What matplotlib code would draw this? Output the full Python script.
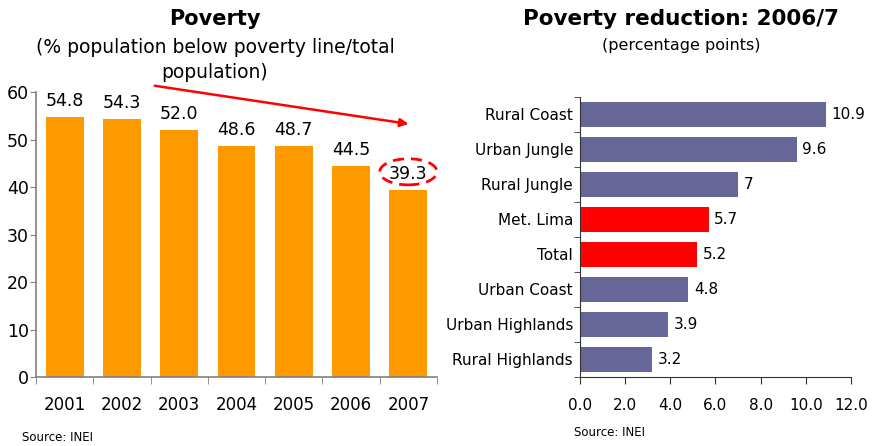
import matplotlib
matplotlib.use("Agg")
import matplotlib.pyplot as plt
from matplotlib.patches import Ellipse
import numpy as np

plt.rcParams['font.family'] = ['DejaVu Sans']

years = ["2001", "2002", "2003", "2004", "2005", "2006", "2007"]
poverty = [54.8, 54.3, 52.0, 48.6, 48.7, 44.5, 39.3]

regions = ["Rural Coast", "Urban Jungle", "Rural Jungle", "Met. Lima", "Total",
           "Urban Coast", "Urban Highlands", "Rural Highlands"]
reduction = [10.9, 9.6, 7, 5.7, 5.2, 4.8, 3.9, 3.2]
reduction_labels = ["10.9", "9.6", "7", "5.7", "5.2", "4.8", "3.9", "3.2"]
highlight = ["Met. Lima", "Total"]

ORANGE = "#FF9900"
PURPLE = "#666699"
RED = "#FF0000"
GREY_AXIS = "#808080"
DARK_AXIS = "#333333"

fig = plt.figure(figsize=(8.74, 4.46), dpi=100)

# ---- Left: poverty level by year ----
ax1 = fig.add_axes([0.0412, 0.1547, 0.4588, 0.639])
x = np.arange(len(years))
ax1.bar(x, poverty, width=0.66, color=ORANGE, zorder=2)
ax1.set_xlim(-0.5, len(years) - 0.5)
ax1.set_ylim(0, 60)
ax1.set_yticks(range(0, 61, 10))
ax1.set_xticks(x)
ax1.set_xticklabels(years, fontsize=12)
ax1.set_xticks(np.arange(-0.5, len(years), 1), minor=True)
ax1.tick_params(axis='x', which='major', length=0, pad=14)
ax1.tick_params(axis='x', which='minor', length=5, color=GREY_AXIS, direction='out')
ax1.tick_params(axis='y', labelsize=12.5, length=4, color=GREY_AXIS, pad=1)
for s in ["top", "right"]:
    ax1.spines[s].set_visible(False)
for s in ["left", "bottom"]:
    ax1.spines[s].set_color(GREY_AXIS)
    ax1.spines[s].set_linewidth(1.2)
for xi, v in zip(x, poverty):
    ax1.annotate(f"{v:.1f}", (xi, v), xytext=(0, 5), textcoords="offset points",
                 ha="center", va="bottom", fontsize=12.5)

# dashed ellipse around the latest value
last = len(years) - 1
ax1.add_patch(Ellipse((last, poverty[last] + 3.9), 1.0, 5.5, fill=False,
                      edgecolor=RED, linestyle=(0, (4, 2.5)), linewidth=2,
                      clip_on=False, zorder=3))

# trend arrow
ax1.annotate("", xy=(0.929, 0.888), xytext=(0.296, 1.022),
             xycoords="axes fraction", textcoords="axes fraction",
             arrowprops=dict(arrowstyle="-|>", color=RED, lw=1.8,
                             mutation_scale=12, shrinkA=0, shrinkB=0))

fig.text(0.246, 0.957, "Poverty", ha="center", va="center",
         fontsize=15, fontweight="bold")
fig.text(0.246, 0.893, "(% population below poverty line/total", ha="center",
         va="center", fontsize=13.5)
fig.text(0.246, 0.837, "population)", ha="center", va="center", fontsize=13.5)
fig.text(0.025, 0.005, "Source: INEI", ha="left", va="bottom", fontsize=8.5)

# ---- Right: poverty reduction by region ----
ax2 = fig.add_axes([0.6636, 0.1547, 0.310, 0.628])
y = np.arange(len(regions))
colors = [RED if r in highlight else PURPLE for r in regions]
ax2.barh(y, reduction, height=0.7, color=colors, zorder=2)
ax2.set_ylim(len(regions) - 0.5, -0.5)
ax2.set_xlim(0, 12)
ax2.set_xticks(np.arange(0, 12.1, 2))
ax2.set_xticklabels([f"{t:.1f}" for t in np.arange(0, 12.1, 2)], fontsize=11)
ax2.set_yticks(y)
ax2.set_yticklabels(regions, fontsize=11)
ax2.set_yticks(np.arange(-0.5, len(regions), 1), minor=True)
ax2.tick_params(axis='y', which='major', length=0, pad=5)
ax2.tick_params(axis='y', which='minor', length=4, color=DARK_AXIS)
ax2.tick_params(axis='x', length=5, color=DARK_AXIS, pad=10)
for s in ["top", "right"]:
    ax2.spines[s].set_visible(False)
for s in ["left", "bottom"]:
    ax2.spines[s].set_color(DARK_AXIS)
for yi, v, lab in zip(y, reduction, reduction_labels):
    ax2.annotate(lab, (v, yi), xytext=(4, 0), textcoords="offset points",
                 ha="left", va="center", fontsize=11)

fig.text(0.779, 0.957, "Poverty reduction: 2006/7", ha="center", va="center",
         fontsize=15.5, fontweight="bold")
fig.text(0.779, 0.898, "(percentage points)", ha="center", va="center",
         fontsize=11.5)
fig.text(0.657, 0.015, "Source: INEI", ha="left", va="bottom", fontsize=8.5)

fig.savefig("out.png", dpi=100)
